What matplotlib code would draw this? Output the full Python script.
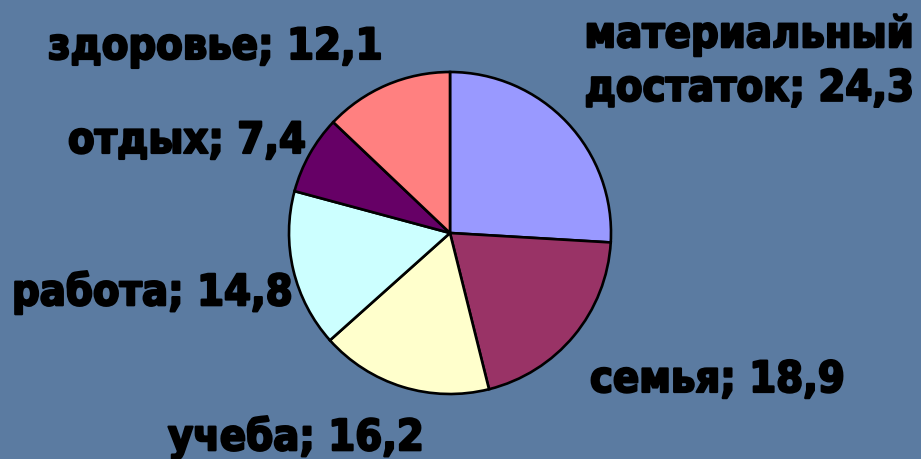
import matplotlib
matplotlib.use("Agg")
import matplotlib.pyplot as plt
import matplotlib.patheffects as pe

# Data
categories = ["материальный\nдостаток", "семья", "учеба", "работа", "отдых", "здоровье"]
values = [24.3, 18.9, 16.2, 14.8, 7.4, 12.1]
colors = ["#9999FF", "#993366", "#FFFFCC", "#CCFFFF", "#660066", "#FF8080"]

W, H = 921, 459
fig = plt.figure(figsize=(W / 100, H / 100), dpi=100)
fig.patch.set_facecolor("#5B7BA1")
ax = fig.add_axes([0, 0, 1, 1])
ax.set_xlim(0, W)
ax.set_ylim(0, H)
ax.set_aspect("equal")
ax.axis("off")

ax.pie(values, colors=colors, startangle=90, counterclock=False,
       center=(450, H - 233), radius=161,
       wedgeprops=dict(edgecolor="black", linewidth=1.9))
ax.set_xlim(0, W)
ax.set_ylim(0, H)

# label anchor points (x, y from top), alignment
label_pos = [(749, 62, "center"), (590, 380, "left"), (168, 438, "left"),
             (12, 293, "left"), (68, 141, "left"), (48, 47, "left")]

for cat, v, (x, y, ha) in zip(categories, values, label_pos):
    txt = f"{cat}; {v:.1f}".replace(".", ",")
    ax.text(x, H - y, txt, ha=ha, va="center", fontsize=31,
            fontweight="bold", fontstretch="condensed", family="DejaVu Sans",
            color="black", linespacing=1.35, multialignment="center",
            path_effects=[pe.withStroke(linewidth=1.6, foreground="black")])

fig.savefig("out.png", dpi=100, facecolor=fig.get_facecolor())
